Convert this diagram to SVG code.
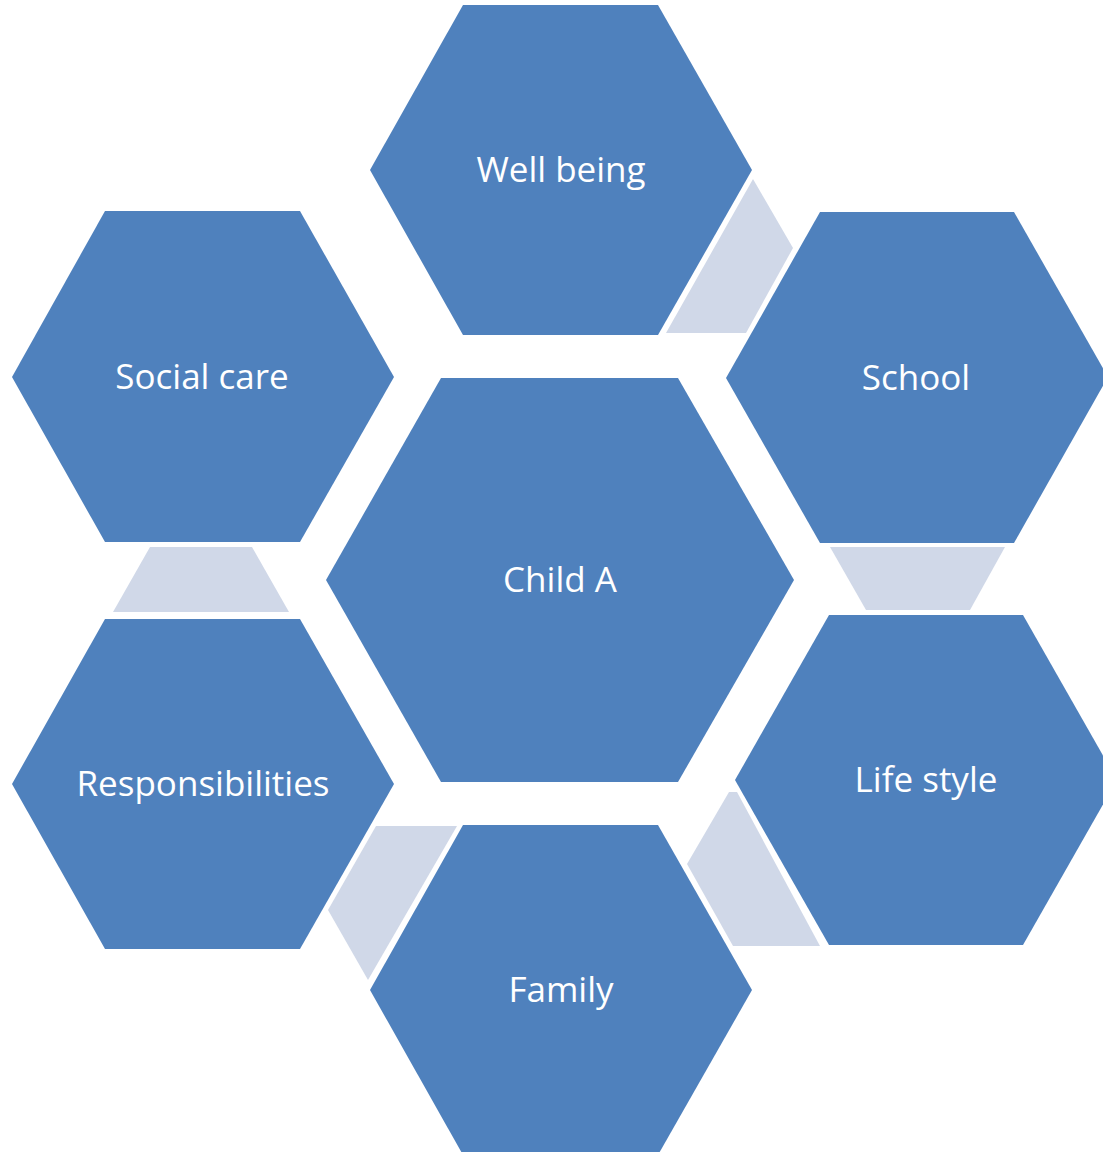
<svg xmlns="http://www.w3.org/2000/svg" width="1103" height="1152" viewBox="0 0 1103 1152">
  <style>
    .hex { fill: #4F81BD; }
    .link { fill: #D0D8E8; }
    .label { fill: #FFFFFF; font-family: "Open Sans", "Liberation Sans", sans-serif; font-size: 35px; text-anchor: middle; }
  </style>
  <rect width="1103" height="1152" fill="#FFFFFF"/>

  <!-- light linking shapes between neighbouring hexagons -->
  <g id="connectors">
    <polygon class="link" points="753,179 793,248 746,333 666,333"/>
    <polygon class="link" points="830,547 1005,547 970,610 866,610"/>
    <polygon class="link" points="729,792 737,792 820,946 733,946 687,864"/>
    <polygon class="link" points="376,826 457,826 368,980 328,910"/>
    <polygon class="link" points="150,547 252,547 289,612 113,612"/>
  </g>

  <g id="well-being">
    <polygon class="hex" points="463,5 658,5 752,170 658,335 463,335 370,170"/>
    <text class="label" x="561" y="182">Well being</text>
  </g>

  <g id="social-care">
    <polygon class="hex" points="105,211 300,211 394,377 300,542 105,542 12,377"/>
    <text class="label" x="202" y="389">Social care</text>
  </g>

  <g id="school">
    <polygon class="hex" points="820,212 1014,212 1108,377 1014,543 820,543 726,378"/>
    <text class="label" x="916" y="390">School</text>
  </g>

  <g id="child-a">
    <polygon class="hex" points="441,378 678,378 794,580 678,782 441,782 326,580"/>
    <text class="label" x="560" y="592">Child A</text>
  </g>

  <g id="responsibilities">
    <polygon class="hex" points="105,619 300,619 394,784 300,949 105,949 12,784"/>
    <text class="label" x="203" y="796">Responsibilities</text>
  </g>

  <g id="life-style">
    <polygon class="hex" points="829,615 1023,615 1117,780 1023,945 829,945 735,780"/>
    <text class="label" x="926" y="792">Life style</text>
  </g>

  <g id="family">
    <polygon class="hex" points="463,825 658,825 752,990 658,1155 463,1155 370,990"/>
    <text class="label" x="561" y="1002">Family</text>
  </g>
</svg>
